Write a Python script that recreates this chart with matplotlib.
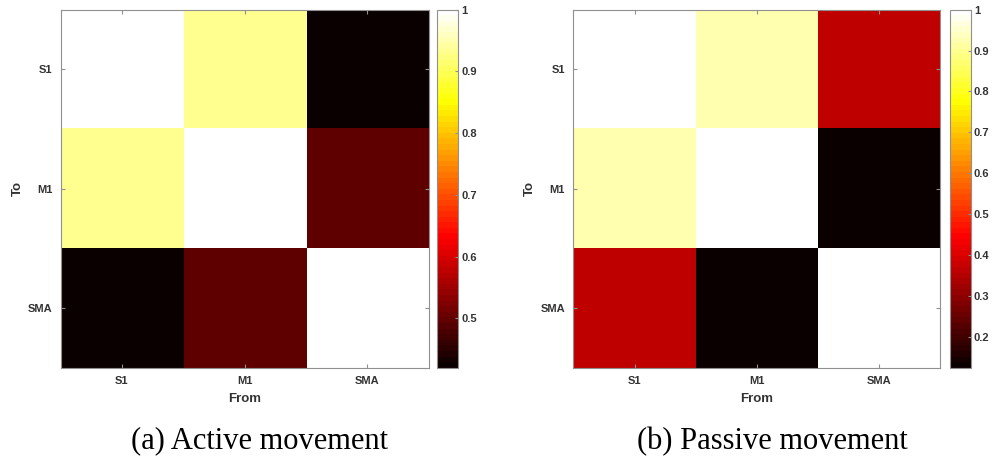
import numpy as np
import matplotlib
matplotlib.use('Agg')
import matplotlib.pyplot as plt

# regions, rows = To, columns = From
regions = ['S1', 'M1', 'SMA']
active = [[1.00, 0.93, 0.42],
          [0.93, 1.00, 0.50],
          [0.42, 0.50, 1.00]]
passive = [[1.00, 0.92, 0.37],
           [0.92, 1.00, 0.124],
           [0.37, 0.124, 1.00]]
active_ticks = [0.5, 0.6, 0.7, 0.8, 0.9, 1]
passive_ticks = [0.2, 0.3, 0.4, 0.5, 0.6, 0.7, 0.8, 0.9, 1]
captions = ['(a) Active movement', '(b) Passive movement']

plt.rcParams['font.family'] = ['Liberation Sans', 'DejaVu Sans']

fig = plt.figure(figsize=(9.92, 4.62), dpi=100)
cmap = plt.get_cmap('hot', 64)
gray = '#909090'
txt = '#333333'

# [left, bottom, width, height] in figure fraction
ax_pos = [[0.061, 0.204, 0.371, 0.775], [0.578, 0.204, 0.370, 0.775]]
cb_pos = [[0.441, 0.204, 0.021, 0.775], [0.958, 0.204, 0.021, 0.775]]

for i, (data, ticks) in enumerate([(active, active_ticks), (passive, passive_ticks)]):
    m = np.array(data)
    ax = fig.add_axes(ax_pos[i])
    im = ax.imshow(m, cmap=cmap, vmin=m.min(), vmax=m.max(), aspect='auto')
    ax.set_xticks(range(len(regions)))
    ax.set_yticks(range(len(regions)))
    ax.set_xticklabels(regions, fontsize=8, fontweight='bold', color=txt)
    ax.set_yticklabels(regions, fontsize=8, fontweight='bold', color=txt)
    ax.tick_params(direction='in', length=3, color=gray, pad=6, top=True, right=True)
    ax.set_xlabel('From', fontsize=9.5, fontweight='bold', color=txt, labelpad=5)
    ax.set_ylabel('To', fontsize=9.5, fontweight='bold', color=txt, labelpad=3)
    for s in ax.spines.values():
        s.set_color(gray)
        s.set_linewidth(0.8)

    cax = fig.add_axes(cb_pos[i])
    cb = fig.colorbar(im, cax=cax)
    cb.set_ticks(ticks)
    cb.set_ticklabels([('%g' % t) for t in ticks])
    cb.ax.tick_params(direction='in', length=2, color=gray, labelsize=8, labelcolor=txt, pad=2)
    for lab in cb.ax.get_yticklabels():
        lab.set_fontweight('bold')
    cb.outline.set_edgecolor(gray)
    cb.outline.set_linewidth(0.8)

    # caption centred under heatmap + colorbar
    cx = (ax_pos[i][0] + cb_pos[i][0] + cb_pos[i][2]) / 2
    fig.text(cx, 0.045, captions[i], ha='center', va='center',
             fontsize=22, family='Liberation Serif')

fig.savefig('out.png', dpi=100)
